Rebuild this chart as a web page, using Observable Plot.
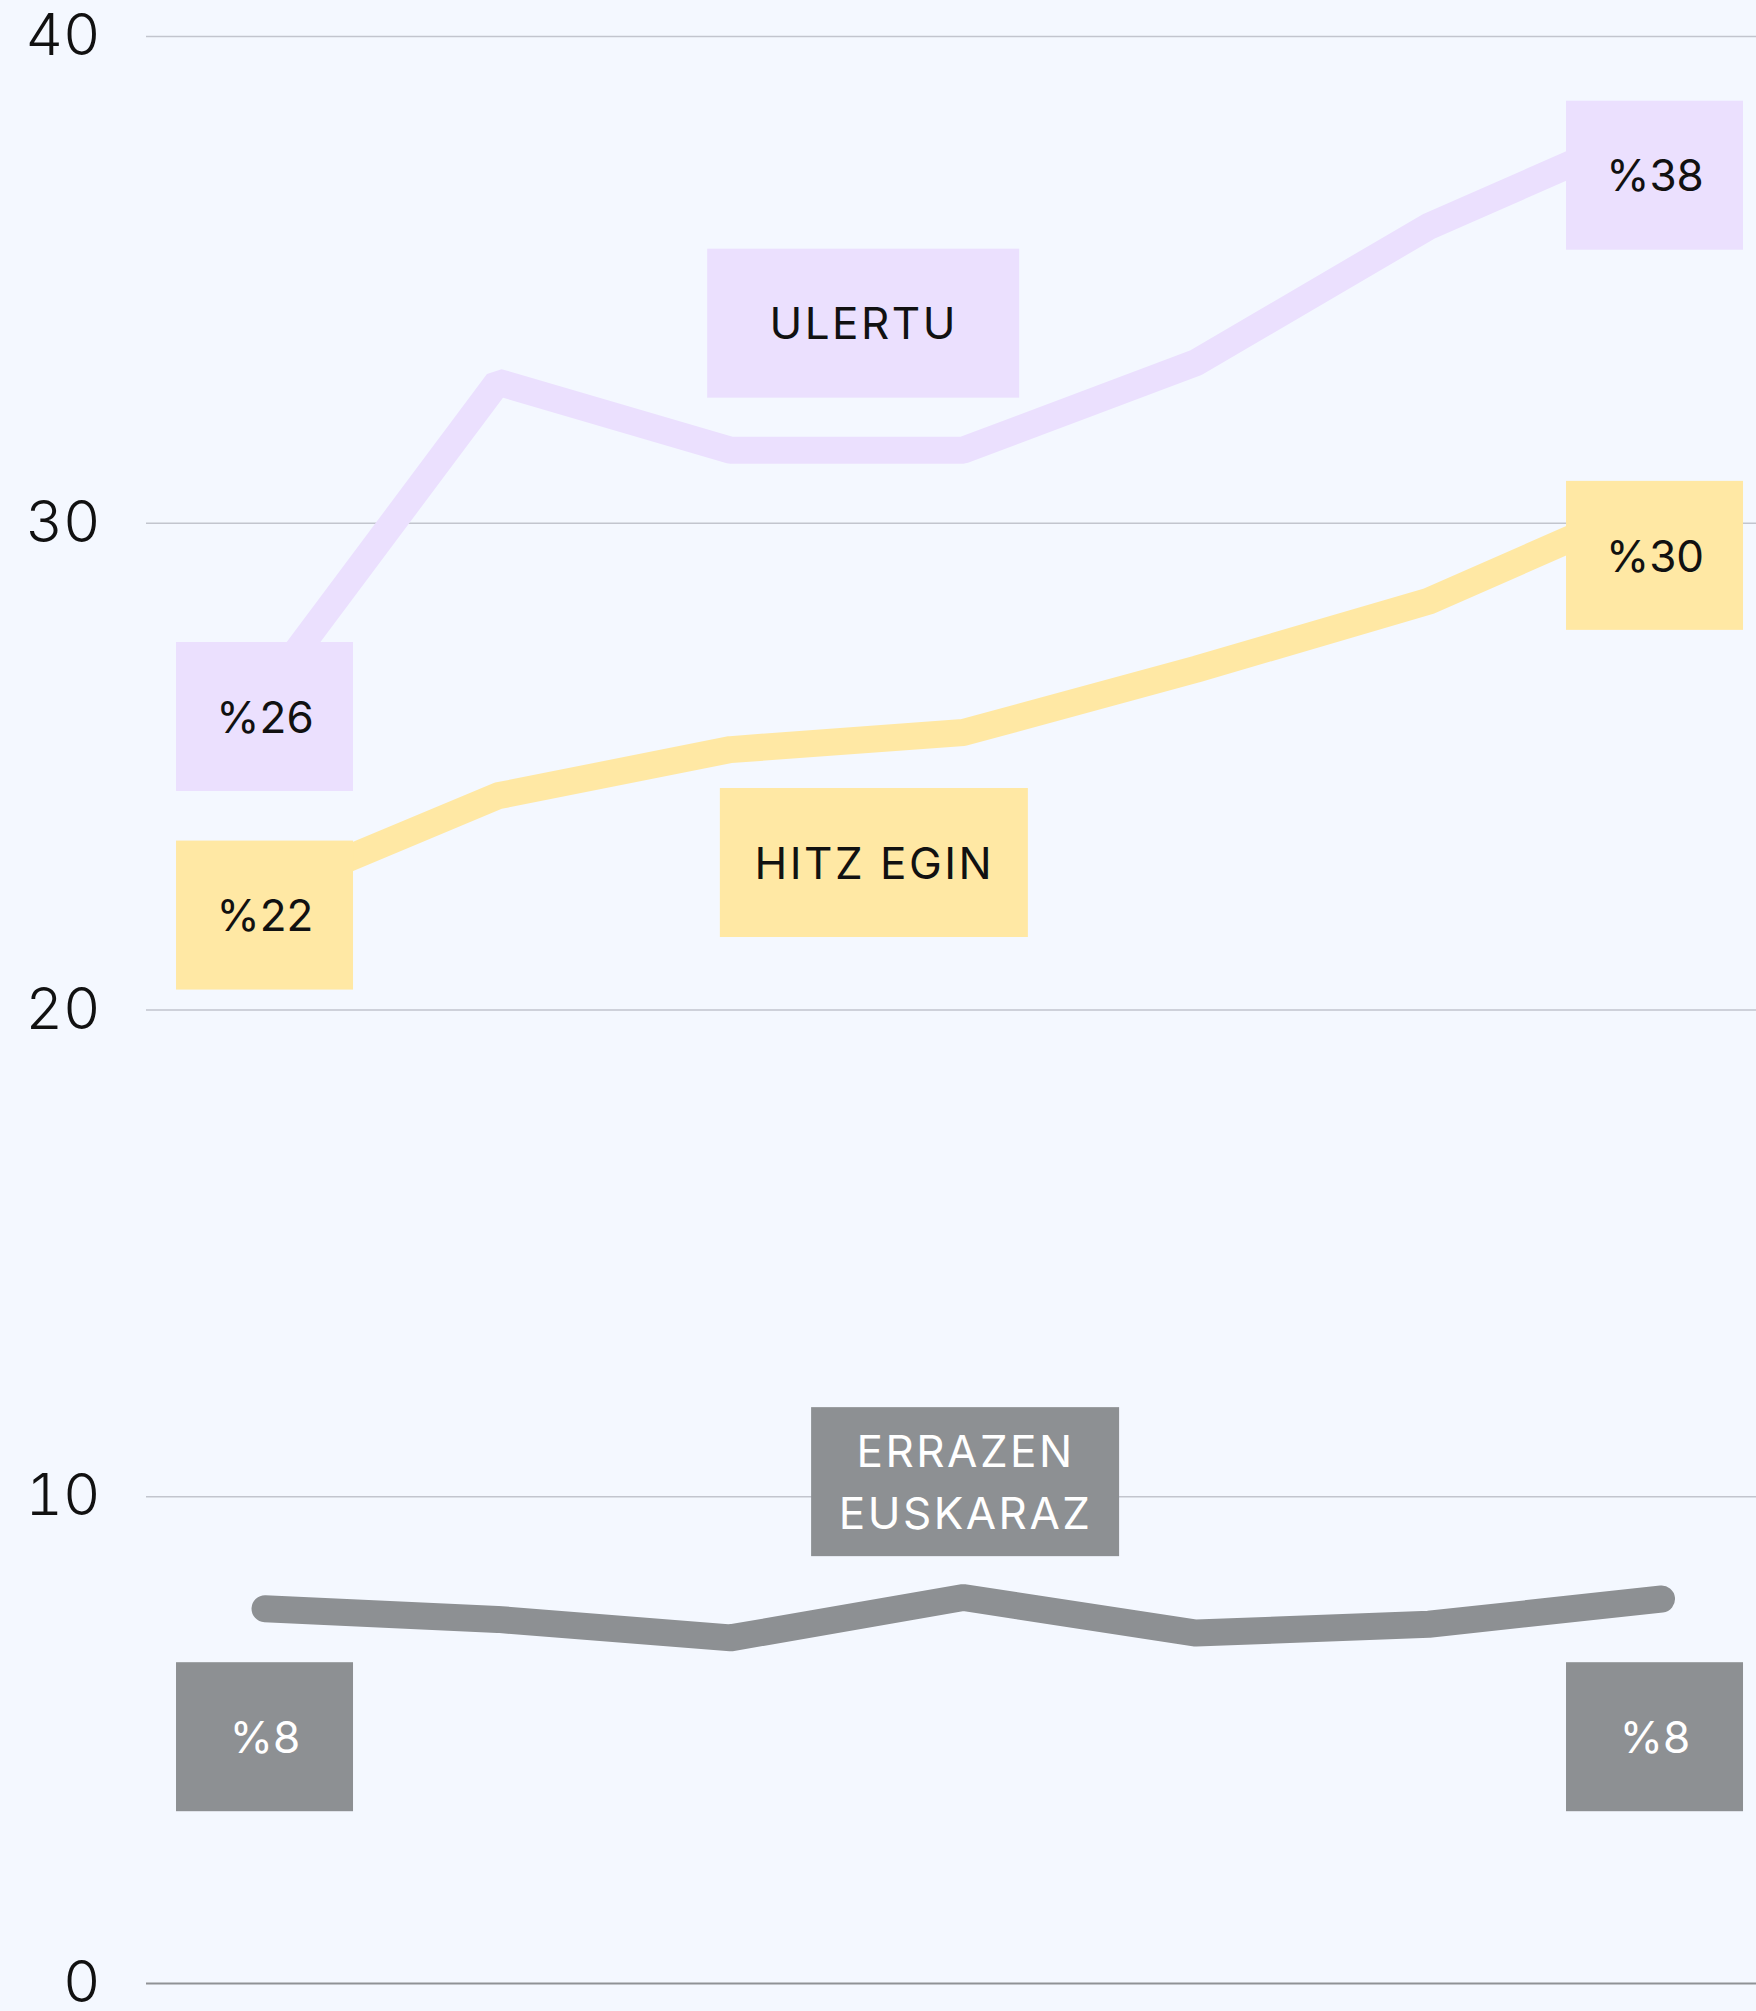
<!DOCTYPE html>
<html>
<head>
<meta charset="utf-8">
<script src="https://cdn.jsdelivr.net/npm/d3@7"></script>
<script src="https://cdn.jsdelivr.net/npm/@observablehq/plot@0.6"></script>
<style>
  html, body { margin: 0; padding: 0; background: #f4f8ff; overflow: hidden; }
  #chart svg { display: block; }
</style>
</head>
<body>
<div id="chart"></div>
<script>
// ---- data ----
const years = [1991, 1996, 2001, 2006, 2011, 2016, 2021];
const ulertu = [26.5, 32.9, 31.5, 31.5, 33.3, 36.1, 38.2];
const hitzEgin = [22.4, 24.4, 25.35, 25.7, 27.0, 28.4, 30.5];
const errazen = [7.7, 7.48, 7.1, 7.93, 7.2, 7.38, 7.9];
const yTicks = [0, 10, 20, 30, 40];

const labelTexts = ["%26", "%22", "%38", "%30", "%8", "%8", "ULERTU", "HITZ EGIN", "ERRAZEN\nEUSKARAZ"];
const labelYears = [1991, 1991, 2020.86, 2020.86, 1991, 2020.86, 2003.86, 2004.09, 2006.05];
const labelValues = [26.02, 21.94, 37.14, 29.33, 5.06, 5.06, 34.10, 23.02, 10.30];
const labelSeries = ["ulertu", "hitz", "ulertu", "hitz", "errazen", "errazen", "ulertu", "hitz", "errazen"];

// ---- styling ----
const W = 1756, H = 2011;
const mL = 146, mR = 0, mT = 36, mB = 28;
const xDomain = [1988.454, 2023.04];
const colors = { ulertu: "#ebe0fe", hitz: "#ffe8a4", errazen: "#8d9093" };
const textColors = { ulertu: "#111111", hitz: "#111111", errazen: "#ffffff" };

const pxPerYear = (W - mL - mR) / (xDomain[1] - xDomain[0]);
const pxPerUnit = (H - mT - mB) / 40;

const series = [
  { key: "ulertu", values: ulertu },
  { key: "hitz", values: hitzEgin },
  { key: "errazen", values: errazen }
];
const lineData = series.flatMap(s => s.values.map((v, i) => ({ key: s.key, year: years[i], value: v })));

const labels = labelTexts.map((t, i) => {
  const wide = t.length > 4;
  const wpx = t === "ULERTU" ? 312 : (wide ? 308 : 177);
  const hpx = 149;
  return {
    text: t, year: labelYears[i], value: labelValues[i], key: labelSeries[i],
    hw: wpx / 2 / pxPerYear, hh: hpx / 2 / pxPerUnit
  };
});

const font = "Inter, 'DejaVu Sans', sans-serif";

const chart = Plot.plot({
  width: W,
  height: H,
  marginLeft: mL,
  marginRight: mR,
  marginTop: mT,
  marginBottom: mB,
  style: { background: "#f4f8ff", fontFamily: font, color: "#111" },
  x: { domain: xDomain, axis: null },
  y: { domain: [0, 40], ticks: yTicks, label: null },
  marks: [
    Plot.gridY(yTicks.filter(t => t > 0), { stroke: "#c2c5ce", strokeOpacity: 1, strokeWidth: 1.6 }),
    Plot.ruleY([0], { stroke: "#8f9296", strokeWidth: 2.2 }),
    Plot.axisY(yTicks, { tickSize: 0, tickPadding: 46, fontSize: 58, label: null, fill: "#111", fontWeight: 300 }),
    ...series.map(s => Plot.line(lineData.filter(d => d.key === s.key), {
      x: "year", y: "value", stroke: colors[s.key], strokeWidth: 27,
      strokeLinecap: "round", strokeLinejoin: "miter", curve: "linear"
    })),
    Plot.rect(labels, {
      x1: d => d.year - d.hw, x2: d => d.year + d.hw,
      y1: d => d.value - d.hh, y2: d => d.value + d.hh,
      fill: d => colors[d.key]
    }),
    Plot.text(labels, {
      x: "year", y: "value", text: "text", dy: -4,
      fill: d => textColors[d.key], fontSize: 44, lineHeight: 1.4,
      textAnchor: "middle", fontWeight: 400
    })
  ]
});
// wider tracking for the word labels, as in the reference typeface
d3.select(chart).selectAll("g[aria-label='text'] text").each(function () {
  const t = this.textContent;
  if (/[A-Z]{3,}/.test(t)) d3.select(this).style("letter-spacing", "2.5px");
});
document.getElementById("chart").appendChild(chart);
</script>
</body>
</html>
